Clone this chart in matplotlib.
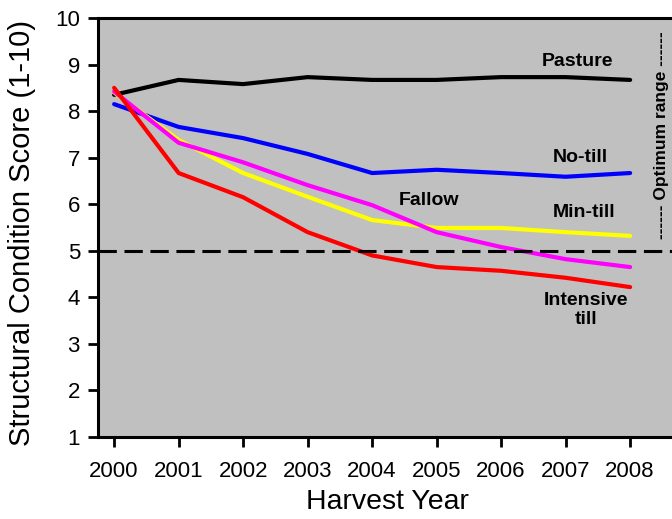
import numpy as np
import matplotlib.pyplot as plt

plt.rcParams['font.family'] = ['Liberation Sans', 'DejaVu Sans']

years = [2000, 2001, 2002, 2003, 2004, 2005, 2006, 2007, 2008]
pasture = [8.35, 8.67, 8.58, 8.73, 8.67, 8.67, 8.73, 8.73, 8.67]
no_till = [8.15, 7.66, 7.42, 7.08, 6.67, 6.74, 6.67, 6.59, 6.67]
min_till = [8.40, 7.38, 6.67, 6.16, 5.66, 5.49, 5.49, 5.40, 5.32]
fallow = [8.42, 7.32, 6.90, 6.41, 5.98, 5.40, 5.08, 4.82, 4.65]
intensive = [8.50, 6.67, 6.15, 5.40, 4.90, 4.65, 4.57, 4.42, 4.22]
optimum_limit = 5

fig = plt.figure(figsize=(6.72, 5.19), dpi=100)
ax = fig.add_axes([98 / 672, 1 - 437 / 519, 1 - 98 / 672, (437 - 18) / 519])
ax.set_facecolor('#C0C0C0')

lw = 3.0
ax.plot(years, pasture, color='black', lw=lw, solid_capstyle='round')
ax.plot(years, no_till, color='#0000FF', lw=lw, solid_capstyle='round')
ax.plot(years, min_till, color='#FFFF00', lw=lw, solid_capstyle='round')
ax.plot(years, fallow, color='#FF00FF', lw=lw, solid_capstyle='round')
ax.plot(years, intensive, color='#FF0000', lw=lw, solid_capstyle='round')
ax.axhline(optimum_limit, color='black', lw=2.2, dashes=(6, 2.5))

# series labels
lab = dict(fontsize=14, fontweight='bold', ha='center', va='center')
ax.text(2007.19, 9.06, 'Pasture', **lab)
ax.text(2007.22, 7.01, 'No-till', **lab)
ax.text(2004.88, 6.09, 'Fallow', **lab)
ax.text(2007.28, 5.83, 'Min-till', **lab)
ax.text(2007.32, 3.72, 'Intensive\ntill', linespacing=1.15, **lab)
ax.text(2008.49, 7.49, '------ Optimum range ------', rotation=90,
        fontsize=12.5, fontweight='bold', ha='center', va='center')

ax.set_xlim(1999.75, 1999.75 + (672 - 98) / 64.5)
ax.set_ylim(1, 10)
ax.set_xticks(years)
ax.set_yticks(range(1, 11))
ax.tick_params(axis='x', direction='out', length=7, width=2, labelsize=16, pad=10)
ax.tick_params(axis='y', direction='out', length=7, width=2, labelsize=16, pad=6)

for side in ['left', 'bottom', 'top']:
    ax.spines[side].set_linewidth(2.2)
ax.spines['right'].set_visible(False)

ax.set_xlabel('Harvest Year', fontsize=20.5)
ax.set_ylabel('Structural Condition Score (1-10)', fontsize=21)
ax.xaxis.set_label_coords(0.505, -0.125)
ax.yaxis.set_label_coords(-0.108, 0.487)

fig.savefig('out.png', dpi=100)
